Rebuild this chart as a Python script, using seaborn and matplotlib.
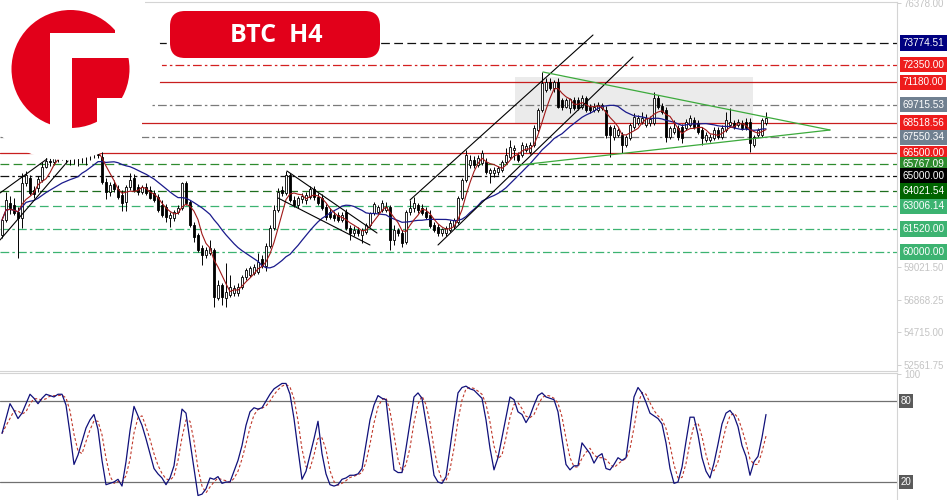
import numpy as np
import pandas as pd
import matplotlib
matplotlib.use('Agg')
import matplotlib.pyplot as plt
import matplotlib.transforms as mtransforms
from matplotlib.patches import Circle, Rectangle, FancyBboxPatch
from matplotlib.ticker import FormatStrFormatter
import seaborn as sns

sns.set_theme(style='white')
plt.rcParams['font.family'] = ['Liberation Sans', 'DejaVu Sans']

# 1. DATA  (BTC H4 bars, oldest first)
opens = [61120, 62109, 63229, 63097, 62636, 62241, 64547, 64877, 64086, 64218,
         64745, 65602, 65997, 65931, 66327, 66590, 66854, 66392, 66722, 66524,
         66920, 66722, 66590, 66788, 66590, 66261, 64613, 63954, 64481, 64152,
         63756, 63295, 64284, 64877, 64284, 63954, 64284, 64086, 63888, 63625,
         63097, 62966, 62241, 62241, 62636, 62900, 64547, 63295, 61779, 61120,
         60264, 59802, 59934, 60132, 56969, 57825, 56969, 57167, 57299, 57299,
         57694, 58353, 58484, 58616, 58682, 59538, 59077, 60396, 61582, 62768,
         64086, 63888, 65074, 63427, 63097, 63493, 63427, 63625, 64152, 63625,
         63559, 62966, 62636, 62438, 62438, 62109, 62636, 61582, 61252, 61450,
         61120, 61318, 61779, 62570, 62636, 62768, 62768, 62966, 60791, 61450,
         61252, 60659, 62636, 62900, 63097, 62900, 62636, 62438, 61779, 61648,
         61252, 61252, 61450, 61714, 61977, 63559, 64745, 65733, 66063, 65733,
         65865, 65931, 65206, 65206, 65272, 65404, 65931, 66261, 66722, 66392,
         66392, 66722, 66590, 67051, 68040, 69358, 70676, 71203, 70808, 71203,
         70017, 69556, 69490, 70017, 70017, 69556, 70149, 69556, 69358, 69358,
         69490, 69358, 68238, 67579, 67710, 67710, 67051, 67513, 68238, 68501,
         68567, 68369, 68501, 68501, 70149, 69622, 69358, 67579, 67908, 68172,
         68238, 68172, 68369, 68699, 68501, 68040, 67381, 67381, 67513, 68040,
         67579, 68040, 68369, 68501, 68369, 68501, 68567, 68567, 67051, 67710,
         67710, 68501]
highs = [62307, 63954, 63691, 63559, 62966, 65206, 65338, 65074, 64350, 65009,
         65931, 66392, 66590, 66722, 66986, 67183, 67381, 67051, 67249, 67117,
         67513, 67315, 67183, 67249, 66986, 66722, 64877, 64613, 64745, 64415,
         64086, 64415, 65206, 65140, 64481, 64415, 64547, 64350, 64086, 63822,
         63427, 63163, 62636, 62768, 63097, 64613, 64679, 63427, 61977, 61252,
         60461, 60330, 60791, 60264, 58155, 57957, 59275, 58484, 57825, 57957,
         58484, 58946, 59077, 59209, 59934, 59802, 60593, 61779, 63097, 64218,
         64350, 65338, 65206, 63691, 63691, 63888, 63954, 64350, 64350, 63888,
         63822, 63163, 62900, 62702, 62636, 62636, 62834, 61779, 61714, 61648,
         61582, 61911, 62636, 63295, 63097, 63427, 63295, 63097, 61779, 61582,
         61450, 62768, 63427, 63625, 63229, 63163, 62966, 62768, 61977, 61845,
         61582, 61714, 62109, 62241, 63691, 64877, 66722, 66392, 66327, 66392,
         66722, 66195, 65536, 65602, 65668, 66063, 66854, 67381, 67051, 66590,
         67249, 67183, 67249, 68369, 69490, 71862, 71467, 71467, 71335, 71467,
         70149, 70149, 70149, 70215, 70215, 70346, 70280, 69753, 69819, 69885,
         69819, 69622, 68369, 68369, 68172, 67908, 67710, 68501, 69160, 69028,
         69226, 69094, 68963, 70544, 70346, 69819, 69556, 68304, 68699, 68369,
         68435, 68765, 69028, 68897, 68699, 68238, 67908, 67776, 68238, 68238,
         68369, 69226, 69490, 68699, 68765, 68699, 68831, 68831, 67710, 68172,
         68831, 69226]
lows = [60923, 61977, 62504, 62438, 59604, 61582, 64350, 63756, 63559, 63954,
        64613, 65536, 65668, 65733, 65931, 66063, 65865, 65733, 65799, 65668,
        65865, 65733, 66063, 66195, 66195, 64481, 63493, 63691, 63954, 63493,
        62702, 62702, 64086, 63954, 63756, 63822, 63756, 63493, 63295, 62636,
        62307, 61977, 61648, 62043, 62504, 62768, 63097, 61648, 60659, 60000,
        59143, 59604, 59802, 56376, 56837, 56507, 56376, 57035, 57101, 57101,
        57562, 58155, 58353, 58484, 58550, 58946, 58748, 60264, 61450, 62636,
        63691, 63756, 63295, 62966, 62900, 63229, 63163, 63493, 63427, 63097,
        62768, 62109, 62175, 62043, 61977, 61977, 61450, 60791, 61055, 61055,
        60593, 61186, 61648, 62438, 62504, 62636, 62636, 60132, 60461, 61055,
        60330, 60527, 62438, 62636, 62570, 62438, 62175, 61582, 61318, 61055,
        61055, 61055, 61318, 61516, 61845, 63427, 64613, 65536, 65536, 65602,
        65733, 65140, 64547, 64943, 65074, 65272, 65799, 66129, 66063, 65931,
        66261, 66590, 66458, 66920, 67908, 69226, 70544, 70676, 70544, 69490,
        69358, 69490, 69160, 69358, 69358, 69424, 69226, 69160, 69226, 69226,
        69358, 67513, 66261, 67381, 67579, 66524, 66920, 67381, 68106, 68369,
        68435, 68238, 68304, 68369, 69424, 69094, 67249, 67447, 67776, 67381,
        67183, 68040, 68238, 68106, 67776, 67051, 67249, 67249, 67381, 67447,
        67447, 67908, 68238, 68106, 68238, 68040, 68040, 66590, 66920, 67579,
        67579, 68369]
closes = [62109, 63427, 62900, 62570, 62241, 64547, 65074, 63888, 63822, 64811,
          65602, 65997, 65931, 66327, 66590, 66854, 66392, 66722, 66524, 66920,
          66722, 66590, 66788, 66590, 66392, 64613, 63954, 64415, 64152, 63625,
          63229, 64284, 64745, 64086, 63954, 64284, 63888, 63559, 63427, 62768,
          62438, 62307, 62438, 62636, 62900, 64547, 63229, 61779, 60989, 60132,
          59802, 60132, 60264, 57035, 57825, 57035, 57365, 57694, 57628, 57694,
          58353, 58814, 58946, 59011, 59341, 59077, 60396, 61582, 62768, 63954,
          63888, 65074, 63427, 63097, 63559, 63691, 63756, 64152, 63625, 63229,
          62900, 62307, 62307, 62241, 62109, 62438, 61582, 61252, 61450, 61252,
          61450, 61779, 62570, 63163, 62966, 63229, 62966, 60791, 61450, 61252,
          60593, 62636, 62900, 63229, 62768, 62570, 62307, 61714, 61450, 61252,
          61516, 61582, 61911, 62109, 63559, 64745, 66392, 66063, 65733, 66195,
          66524, 65272, 65404, 65404, 65536, 65931, 66392, 66920, 66854, 66063,
          67051, 66986, 67051, 68172, 69358, 71137, 71203, 70808, 71203, 69556,
          69556, 70017, 70083, 69490, 69490, 70149, 69358, 69358, 69556, 69687,
          69687, 67710, 67710, 68172, 68040, 67051, 67579, 68369, 68897, 68831,
          68831, 68831, 68765, 70149, 69556, 69226, 67579, 68172, 68172, 67579,
          67513, 68567, 68831, 68238, 67908, 67513, 67710, 67579, 68040, 67579,
          68172, 68699, 68567, 68238, 68567, 68172, 68172, 67183, 67579, 68040,
          68699, 68831]

# stochastic %K
stoch_k = [56, 67, 78, 73, 67, 71, 78, 85, 82, 78,
           82, 85, 84, 83, 85, 85, 77, 56, 33, 40,
           50, 60, 66, 70, 59, 36, 18, 19, 20, 22,
           17, 35, 58, 76, 69, 62, 52, 41, 30, 26,
           23, 18, 23, 32, 53, 74, 71, 50, 30, 10,
           11, 15, 23, 22, 24, 19, 20, 20, 28, 36,
           47, 62, 72, 75, 74, 75, 80, 85, 89, 91,
           93, 93, 85, 67, 44, 22, 28, 40, 52, 65,
           41, 26, 18, 17, 18, 22, 23, 25, 25, 26,
           30, 48, 66, 77, 84, 82, 81, 55, 29, 27,
           27, 45, 64, 83, 86, 82, 64, 46, 25, 20,
           19, 24, 45, 66, 86, 90, 91, 89, 88, 85,
           82, 66, 45, 29, 38, 53, 68, 83, 81, 72,
           70, 64, 69, 77, 84, 86, 83, 82, 81, 72,
           52, 33, 29, 32, 32, 49, 45, 41, 34, 39,
           41, 30, 29, 33, 38, 36, 38, 60, 83, 90,
           86, 79, 71, 69, 67, 63, 49, 30, 19, 20,
           31, 50, 68, 68, 55, 38, 28, 23, 34, 48,
           63, 71, 73, 69, 61, 47, 39, 25, 35, 39,
           53, 70]

# horizontal support / resistance levels
levels = [73774.51, 72350.00, 71180.00, 69715.53, 68518.56, 67550.34, 66500.00,
          65767.09, 65000.00, 64021.54, 63006.14, 61520.00, 60000.00]
level_line_colors = ['#111111', '#d42020', '#c81e1e', '#7a7a7a', '#c81e1e', '#7a7a7a', '#c81e1e',
                     '#2e8b2e', '#111111', '#1e6e1e', '#3cb371', '#3cb371', '#3cb371']
level_styles = ['dash', 'dashdot', 'solid', 'dashdot', 'solid', 'dashdot', 'solid',
                'dash', 'dashdot', 'dash', 'dash', 'dashdot', 'dashdot']
level_label_colors = ['#000080', '#ee1c1c', '#ee1c1c', '#708090', '#ee1c1c', '#708090', '#ee1c1c',
                      '#2e8b2e', '#000000', '#006400', '#3cb371', '#3cb371', '#3cb371']
# price-scale labels that are not hidden behind the level boxes
price_ticks = [52561.75, 54715.00, 56868.25, 59021.50, 76378.00]

# trend lines as (bar, price) pairs
trend_black = [((-0.5, 63888), (11.25, 66129)),    # old rising channel
               ((-0.5, 60791), (16.5, 65997)),
               ((71.25, 65338), (93.75, 61252)),   # falling channel
               ((69.0, 63559), (92.0, 60461)),
               ((102.0, 63427), (147.75, 74300)),  # rising channel
               ((109.0, 60461), (157.75, 72851))]
trend_green = [((135.25, 71862), (207.0, 68040)),  # triangle
               ((129.5, 65733), (207.0, 68040))]
zone_bars = (128.25, 187.75)
zone_prices = (68501, 71533)

RED = '#e2001a'
W, H = 950, 500

# 2. FIGURE LAYOUT
fig = plt.figure(figsize=(W / 100, H / 100), dpi=100)
ax = fig.add_axes([0, (H - 371) / H, 897 / W, 369 / H])
ax2 = fig.add_axes([0, 0, 897 / W, 127 / H])

x = np.arange(len(closes))
df = pd.DataFrame({'open': opens, 'high': highs, 'low': lows, 'close': closes}, index=x)
df['ma_fast'] = df['close'].rolling(5, min_periods=1).mean()
df['ma_slow'] = df['close'].rolling(20, min_periods=1).mean()

# 3. MAIN PANEL
ax.add_patch(Rectangle((zone_bars[0], zone_prices[0]), zone_bars[1] - zone_bars[0],
                       zone_prices[1] - zone_prices[0], fc='#ebebeb', ec='none', zorder=0))

dash_map = {'solid': '-', 'dash': (0, (7, 3.5)), 'dashdot': (0, (7, 2.5, 2, 2.5))}
for p, c, s in zip(levels, level_line_colors, level_styles):
    ax.axhline(p, color=c, lw=0.9, ls=dash_map[s], zorder=1)

up = df['close'] >= df['open']
ax.vlines(x, df['low'], df['high'], color='black', lw=0.7, zorder=3)
ax.bar(x[up], (df['close'] - df['open'])[up], bottom=df['open'][up], width=0.62,
       color='white', edgecolor='black', linewidth=0.6, zorder=4)
ax.bar(x[~up], (df['close'] - df['open'])[~up], bottom=df['open'][~up], width=0.62,
       color='black', edgecolor='black', linewidth=0.6, zorder=4)

sns.lineplot(x=x, y=df['ma_slow'], ax=ax, color='#1a1a8c', lw=0.9, zorder=5)
sns.lineplot(x=x, y=df['ma_fast'], ax=ax, color='#a01818', lw=0.8, zorder=5)

for (b0, p0), (b1, p1) in trend_black:
    ax.plot([b0, b1], [p0, p1], color='black', lw=0.8, zorder=6)
for (b0, p0), (b1, p1) in trend_green:
    ax.plot([b0, b1], [p0, p1], color='#3caa3c', lw=0.9, zorder=6)

ax.set_xlim(-0.5, 223.75)
ax.set_ylim(52158, 76475)
ax.set_xticks([])
ax.set_xlabel('')
ax.set_ylabel('')
ax.yaxis.tick_right()
ax.set_yticks(price_ticks)
ax.yaxis.set_major_formatter(FormatStrFormatter('%.2f'))
ax.tick_params(axis='y', length=3, width=0.6, color='#c8c8c8', labelcolor='#c4c4c4',
               labelsize=7, pad=2, right=True, left=False)
ax.spines['left'].set_visible(False)
for side in ['top', 'right', 'bottom']:
    ax.spines[side].set_color('#d4d4d4')
    ax.spines[side].set_linewidth(0.8)

trans = mtransforms.blended_transform_factory(ax.transAxes, ax.transData)
for p, c in zip(levels, level_label_colors):
    ax.text(1.006, p, f'{p:.2f}', transform=trans, ha='left', va='center', fontsize=7.2,
            color='white', zorder=10, clip_on=False,
            bbox=dict(boxstyle='square,pad=0.28', fc=c, ec='none'))

# 4. STOCHASTIC PANEL
df['stoch_k'] = stoch_k
df['stoch_d'] = df['stoch_k'].rolling(3, min_periods=1).mean()
ax2.axhline(80, color='#707070', lw=0.9)
ax2.axhline(20, color='#707070', lw=0.9)
sns.lineplot(x=x, y=df['stoch_d'], ax=ax2, color='#c0392b', lw=0.8, dashes=False,
             linestyle=(0, (2.5, 2)))
sns.lineplot(x=x, y=df['stoch_k'], ax=ax2, color='#10107a', lw=0.9)
ax2.set_xlim(-0.5, 223.75)
ax2.set_ylim(6.67, 100.74)
ax2.set_xticks([])
ax2.set_xlabel('')
ax2.set_ylabel('')
ax2.yaxis.tick_right()
ax2.set_yticks([100])
ax2.tick_params(axis='y', length=3, width=0.6, color='#c8c8c8', labelcolor='#c4c4c4',
                labelsize=7, pad=2)
for side in ['left', 'bottom']:
    ax2.spines[side].set_visible(False)
for side in ['top', 'right']:
    ax2.spines[side].set_color('#d4d4d4')
    ax2.spines[side].set_linewidth(0.8)
trans2 = mtransforms.blended_transform_factory(ax2.transAxes, ax2.transData)
for lvl in [80, 20]:
    ax2.text(1.004, lvl, str(lvl), transform=trans2, ha='left', va='center', fontsize=7,
             color='white', clip_on=False,
             bbox=dict(boxstyle='square,pad=0.2', fc='#5a5a5a', ec='none'))

# 5. LOGO + TITLE BADGE
deco = fig.add_axes([0, 0, 1, 1], zorder=20)
deco.set_xlim(0, W)
deco.set_ylim(H, 0)
deco.axis('off')
deco.patch.set_alpha(0)
deco.add_patch(Circle((65, 63), 97, fc='white', ec='none'))
deco.add_patch(Circle((70.5, 69), 59, fc=RED, ec='none'))
for (x0, y0, w, h) in [(50, 33, 22, 110), (50, 33, 90, 25), (115, 0, 30, 58), (97, 98, 45, 45)]:
    deco.add_patch(Rectangle((x0, y0), w, h, fc='white', ec='none'))
deco.add_patch(FancyBboxPatch((170, 11), 210, 47, boxstyle='round,pad=0,rounding_size=15',
                              fc=RED, ec='none'))
deco.text(276, 35, 'BTC  H4', ha='center', va='center', fontsize=18, fontweight='bold',
          color='white', family=['Open Sans', 'DejaVu Sans'])

plt.savefig('out.png', dpi=100)
plt.close()
